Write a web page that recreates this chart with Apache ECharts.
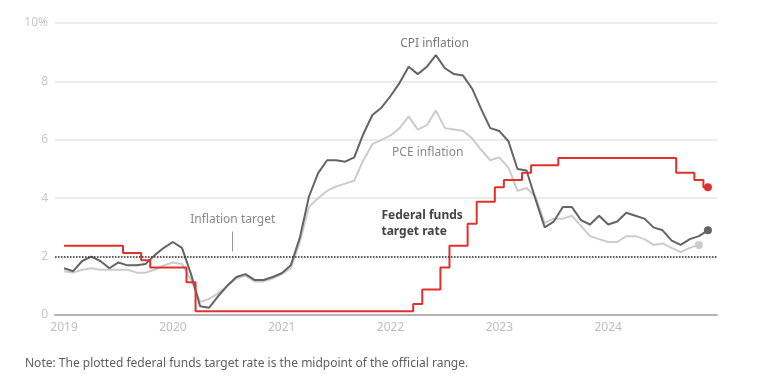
<!DOCTYPE html>
<html>
<head>
<meta charset="utf-8">
<script src="https://cdn.jsdelivr.net/npm/echarts@6/dist/echarts.min.js"></script>
<style>
  html, body { margin: 0; padding: 0; background: #fff; }
  #chart { width: 758px; height: 376px; }
</style>
</head>
<body>
<div id="chart"></div>
<script>
// monthly values, Jan 2019 = index 0
var yearLabels = ['2019', '2020', '2021', '2022', '2023', '2024'];
var yTicks = [0, 2, 4, 6, 8, 10];

var cpi = [
  1.6, 1.5, 1.85, 2.0, 1.85, 1.6, 1.8, 1.7, 1.7, 1.75, 2.05, 2.3,   // 2019
  2.5, 2.3, 1.4, 0.3, 0.25, 0.65, 1.0, 1.3, 1.4, 1.2, 1.2, 1.3,     // 2020
  1.43, 1.7, 2.65, 4.05, 4.85, 5.3, 5.3, 5.25, 5.4, 6.2, 6.85, 7.1, // 2021
  7.5, 7.95, 8.5, 8.25, 8.5, 8.9, 8.45, 8.25, 8.2, 7.75, 7.05, 6.4, // 2022
  6.3, 5.95, 5.0, 4.95, 3.95, 3.0, 3.2, 3.7, 3.7, 3.25, 3.1, 3.4,   // 2023
  3.1, 3.2, 3.5, 3.4, 3.3, 3.0, 2.9, 2.55, 2.4, 2.6, 2.7, 2.9       // 2024
];

var pce = [
  1.5, 1.45, 1.55, 1.6, 1.55, 1.55, 1.55, 1.55, 1.45, 1.45, 1.55, 1.7,
  1.8, 1.75, 1.2, 0.45, 0.55, 0.75, 1.0, 1.25, 1.35, 1.15, 1.15, 1.25,
  1.4, 1.6, 2.5, 3.7, 4.0, 4.25, 4.4, 4.5, 4.6, 5.3, 5.85, 6.0,
  6.15, 6.4, 6.8, 6.35, 6.5, 7.0, 6.4, 6.35, 6.3, 6.05, 5.65, 5.3,
  5.4, 5.05, 4.25, 4.35, 4.05, 3.15, 3.3, 3.3, 3.4, 3.05, 2.7, 2.6,
  2.5, 2.5, 2.7, 2.7, 2.6, 2.4, 2.45, 2.3, 2.15, 2.3, 2.4
];

// midpoint of the target range
var fedRate = [
  2.375, 2.375, 2.375, 2.375, 2.375, 2.375, 2.375, 2.125, 2.125, 1.875, 1.625, 1.625,
  1.625, 1.625, 1.125, 0.125, 0.125, 0.125, 0.125, 0.125, 0.125, 0.125, 0.125, 0.125,
  0.125, 0.125, 0.125, 0.125, 0.125, 0.125, 0.125, 0.125, 0.125, 0.125, 0.125, 0.125,
  0.125, 0.125, 0.125, 0.375, 0.875, 0.875, 1.625, 2.375, 2.375, 3.125, 3.875, 3.875,
  4.375, 4.625, 4.625, 4.875, 5.125, 5.125, 5.125, 5.375, 5.375, 5.375, 5.375, 5.375,
  5.375, 5.375, 5.375, 5.375, 5.375, 5.375, 5.375, 5.375, 4.875, 4.875, 4.625, 4.375
];

function toPairs(arr) {
  return arr.map(function (v, i) { return [i, v]; });
}
function lastDot(arr, size) {
  return function (val, params) { return params.dataIndex === arr.length - 1 ? size : 0; };
}

var chart = echarts.init(document.getElementById('chart'), null, { renderer: 'canvas' });
var labelFont = '"Noto Sans", "Open Sans", sans-serif';

var option = {
  animation: false,
  backgroundColor: '#fff',
  textStyle: { fontFamily: labelFont },
  grid: { left: 55, right: 41, top: 23, bottom: 61 },
  xAxis: {
    type: 'value',
    min: -1,
    max: 72,
    axisLine: { show: true, lineStyle: { color: '#b5b5b5', width: 2 } },
    axisTick: { show: false },
    splitLine: { show: false },
    axisLabel: {
      customValues: yearLabels.map(function (y, i) { return i * 12; }),
      formatter: function (v) { return yearLabels[Math.round(v / 12)]; },
      color: '#bdbdbd',
      fontSize: 12,
      margin: 7
    }
  },
  yAxis: {
    type: 'value',
    min: 0,
    max: 10,
    interval: 2,
    axisLine: { show: false },
    axisTick: { show: false },
    splitLine: { lineStyle: { color: '#e6e6e6', width: 1.5 } },
    axisLabel: {
      color: '#c8c8c8',
      fontSize: 12,
      margin: 7,
      formatter: function (v) { return v === 10 ? '10%' : String(v); }
    }
  },
  series: [
    {
      name: 'PCE inflation',
      type: 'line',
      data: toPairs(pce),
      symbol: 'circle',
      symbolSize: lastDot(pce, 8),
      showAllSymbol: true,
      itemStyle: { color: '#cccccc' },
      lineStyle: { color: '#cccccc', width: 2 },
      z: 2,
      markLine: {
        silent: true,
        symbol: 'none',
        label: { show: false },
        data: [
          { yAxis: 2, lineStyle: { type: 'dotted', color: '#333', width: 1.5 } },
          [
            { coord: [18.6, 2.17], lineStyle: { type: 'solid', color: '#9a9a9a', width: 1 } },
            { coord: [18.6, 2.86] }
          ]
        ]
      },
      markPoint: {
        silent: true,
        symbol: 'circle',
        symbolSize: 0,
        data: [
          {
            coord: [40.1, 5.56],
            label: { show: true, position: 'inside', formatter: 'PCE inflation', color: '#8a8a8a', fontSize: 12 }
          },
          {
            coord: [18.6, 3.26],
            label: { show: true, position: 'inside', formatter: 'Inflation target', color: '#8a8a8a', fontSize: 12 }
          }
        ]
      }
    },
    {
      name: 'CPI inflation',
      type: 'line',
      data: toPairs(cpi),
      symbol: 'circle',
      symbolSize: lastDot(cpi, 8),
      showAllSymbol: true,
      itemStyle: { color: '#646464' },
      lineStyle: { color: '#646464', width: 2 },
      z: 3,
      markPoint: {
        silent: true,
        symbol: 'circle',
        symbolSize: 0,
        data: [
          {
            coord: [40.85, 9.3],
            label: { show: true, position: 'inside', formatter: 'CPI inflation', color: '#7a7a7a', fontSize: 12 }
          }
        ]
      }
    },
    {
      name: 'Federal funds target rate',
      type: 'line',
      step: 'middle',
      data: toPairs(fedRate),
      symbol: 'circle',
      symbolSize: lastDot(fedRate, 8),
      showAllSymbol: true,
      itemStyle: { color: '#e2302c' },
      lineStyle: { color: '#e2302c', width: 2 },
      z: 4,
      markPoint: {
        silent: true,
        symbol: 'circle',
        symbolSize: 0,
        data: [
          {
            coord: [35.0, 3.12],
            label: {
              show: true,
              position: 'right',
              distance: 0,
              formatter: 'Federal funds\ntarget rate',
              color: '#444',
              fontSize: 12,
              fontWeight: 'bold',
              lineHeight: 16
            }
          }
        ]
      }
    }
  ],
  graphic: [
    {
      type: 'text',
      left: 25,
      top: 358,
      style: {
        text: 'Note: The plotted federal funds target rate is the midpoint of the official range.',
        fill: '#5e5e5e',
        font: '12px "Noto Sans", "Open Sans", sans-serif'
      }
    }
  ]
};

chart.setOption(option);
</script>
</body>
</html>
